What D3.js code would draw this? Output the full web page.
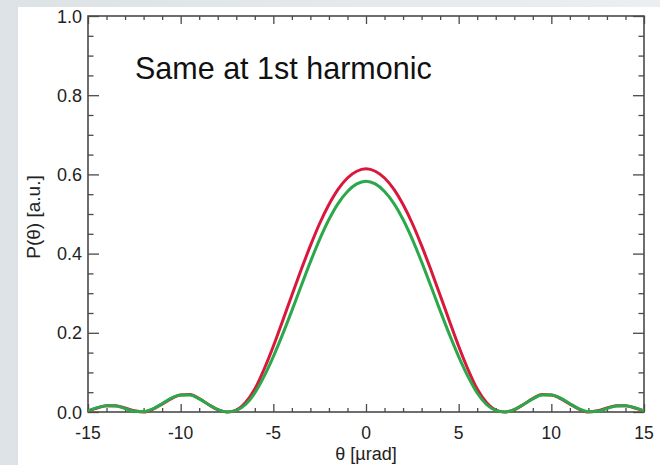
<!DOCTYPE html>
<html>
<head>
<meta charset="utf-8">
<script src="https://cdn.jsdelivr.net/npm/d3@7"></script>
<style>
  html, body { margin: 0; padding: 0; background: #fff; }
  svg { display: block; font-family: "Liberation Sans", Arial, Helvetica, sans-serif; }
</style>
</head>
<body>
<svg id="chart" width="660" height="465"></svg>
<script>
// Angular grid, µrad
const theta = [-15, -14.5, -14, -13.5, -13, -12.5, -12, -11.5, -11, -10.5, -10, -9.5, -9, -8.5, -8, -7.5,
  -7, -6.5, -6, -5.5, -5, -4.5, -4, -3.5, -3, -2.5, -2, -1.5, -1, -0.5, 0,
  0.5, 1, 1.5, 2, 2.5, 3, 3.5, 4, 4.5, 5, 5.5, 6, 6.5, 7, 7.5,
  8, 8.5, 9, 9.5, 10, 10.5, 11, 11.5, 12, 12.5, 13, 13.5, 14, 14.5, 15];

// Angular power profile, red curve
const powerRed = [0.003, 0.010, 0.016, 0.016, 0.010, 0.003, 0.000, 0.007, 0.020, 0.034, 0.043, 0.044, 0.034, 0.019, 0.006, 0.000,
  0.005, 0.024, 0.058, 0.108, 0.166, 0.230, 0.295, 0.359, 0.420, 0.476, 0.524, 0.563, 0.591, 0.608, 0.614,
  0.608, 0.591, 0.563, 0.524, 0.476, 0.420, 0.359, 0.295, 0.230, 0.166, 0.108, 0.058, 0.024, 0.005, 0.000,
  0.006, 0.019, 0.034, 0.044, 0.043, 0.034, 0.020, 0.007, 0.000, 0.003, 0.010, 0.016, 0.016, 0.010, 0.003];

// Angular power profile, green curve
const powerGreen = [0.003, 0.011, 0.016, 0.015, 0.009, 0.002, 0.001, 0.008, 0.021, 0.035, 0.043, 0.043, 0.033, 0.019, 0.006, 0.000,
  0.004, 0.019, 0.048, 0.090, 0.140, 0.196, 0.256, 0.318, 0.379, 0.436, 0.486, 0.527, 0.557, 0.576, 0.583,
  0.576, 0.557, 0.527, 0.486, 0.436, 0.379, 0.318, 0.256, 0.196, 0.140, 0.090, 0.048, 0.019, 0.004, 0.000,
  0.006, 0.019, 0.033, 0.043, 0.043, 0.035, 0.021, 0.008, 0.001, 0.002, 0.009, 0.015, 0.016, 0.011, 0.003];

const xTickValues = [-15, -10, -5, 0, 5, 10, 15];
const xTickLabels = ["-15", "-10", "-5", "0", "5", "10", "15"];
const yTickValues = [0.0, 0.2, 0.4, 0.6, 0.8, 1.0];
const yTickLabels = ["0.0", "0.2", "0.4", "0.6", "0.8", "1.0"];
const titleText = "Same at 1st harmonic";
const xTitle = "θ [µrad]";
const yTitle = "P(θ) [a.u.]";

const svg = d3.select("#chart");
const W = 660, H = 465;

// slide background and white panel
const defs = svg.append("defs");
const grad = defs.append("linearGradient").attr("id", "bg").attr("x1", "0").attr("x2", "1").attr("y1", "0").attr("y2", "0");
grad.append("stop").attr("offset", "0").attr("stop-color", "#dce2e5");
grad.append("stop").attr("offset", "1").attr("stop-color", "#eceff0");
svg.append("rect").attr("width", W).attr("height", H).attr("fill", "url(#bg)");
svg.append("rect").attr("x", 18).attr("y", 7).attr("width", W - 18).attr("height", H - 7).attr("fill", "#fff");

const plot = { left: 88, right: 644, top: 16, bottom: 412 };
const x = d3.scaleLinear().domain([-15, 15]).range([plot.left, plot.right]);
const y = d3.scaleLinear().domain([0, 1]).range([plot.bottom, plot.top]);

const axisColor = "#4a4a4a";
const xMajor = 8, xMinor = 4, yMajor = 11, yMinor = 5.5;
const xMinorVals = d3.range(-15, 15.001, 1).filter(v => !xTickValues.includes(v));
const yMinorVals = d3.range(0, 1.0001, 0.05).map(v => +v.toFixed(2)).filter(v => !yTickValues.some(t => Math.abs(t - v) < 1e-6));

function styleAxis(g) {
  g.select(".domain").remove();
  g.selectAll("line").attr("stroke", axisColor).attr("stroke-width", 1.3);
}

// bottom and top axes (ticks point inward)
svg.append("g").attr("transform", `translate(0,${plot.bottom})`)
  .call(d3.axisTop(x).tickValues(xTickValues).tickSize(xMajor).tickFormat("")).call(styleAxis);
svg.append("g").attr("transform", `translate(0,${plot.bottom})`)
  .call(d3.axisTop(x).tickValues(xMinorVals).tickSize(xMinor).tickFormat("")).call(styleAxis);
svg.append("g").attr("transform", `translate(0,${plot.top})`)
  .call(d3.axisBottom(x).tickValues(xTickValues).tickSize(xMajor).tickFormat("")).call(styleAxis);
svg.append("g").attr("transform", `translate(0,${plot.top})`)
  .call(d3.axisBottom(x).tickValues(xMinorVals).tickSize(xMinor).tickFormat("")).call(styleAxis);

// left and right axes
svg.append("g").attr("transform", `translate(${plot.left},0)`)
  .call(d3.axisRight(y).tickValues(yTickValues).tickSize(yMajor).tickFormat("")).call(styleAxis);
svg.append("g").attr("transform", `translate(${plot.left},0)`)
  .call(d3.axisRight(y).tickValues(yMinorVals).tickSize(yMinor).tickFormat("")).call(styleAxis);
svg.append("g").attr("transform", `translate(${plot.right},0)`)
  .call(d3.axisLeft(y).tickValues(yTickValues).tickSize(yMajor).tickFormat("")).call(styleAxis);
svg.append("g").attr("transform", `translate(${plot.right},0)`)
  .call(d3.axisLeft(y).tickValues(yMinorVals).tickSize(yMinor).tickFormat("")).call(styleAxis);

// frame
svg.append("rect").attr("x", plot.left).attr("y", plot.top)
  .attr("width", plot.right - plot.left).attr("height", plot.bottom - plot.top)
  .attr("fill", "none").attr("stroke", axisColor).attr("stroke-width", 1.6);

// tick labels
svg.append("g").selectAll("text").data(xTickValues).join("text")
  .attr("x", d => x(d)).attr("y", 439)
  .attr("text-anchor", "middle").attr("font-size", 17.5).attr("fill", "#222")
  .text((d, i) => xTickLabels[i]);
svg.append("g").selectAll("text").data(yTickValues).join("text")
  .attr("x", 82).attr("y", d => y(d) + 6.5)
  .attr("text-anchor", "end").attr("font-size", 18).attr("fill", "#222")
  .text((d, i) => yTickLabels[i]);

// axis titles
svg.append("text").attr("x", x(0)).attr("y", 460).attr("text-anchor", "middle")
  .attr("font-size", 18).attr("fill", "#222").text(xTitle);
svg.append("text").attr("transform", `translate(40,${(plot.top + plot.bottom) / 2 + 3}) rotate(-90)`)
  .attr("text-anchor", "middle").attr("font-size", 19).attr("fill", "#222").text(yTitle);

// annotation
svg.append("text").attr("x", 135).attr("y", 79).attr("font-size", 30.5).attr("fill", "#111").text(titleText);

// curves
const line = d3.line().x((d, i) => x(theta[i])).y(d => y(d)).curve(d3.curveMonotoneX);
svg.append("path").datum(powerRed).attr("d", line)
  .attr("fill", "none").attr("stroke", "#d8183c").attr("stroke-width", 3);
svg.append("path").datum(powerGreen).attr("d", line)
  .attr("fill", "none").attr("stroke", "#2aa84a").attr("stroke-width", 3);
</script>
</body>
</html>
